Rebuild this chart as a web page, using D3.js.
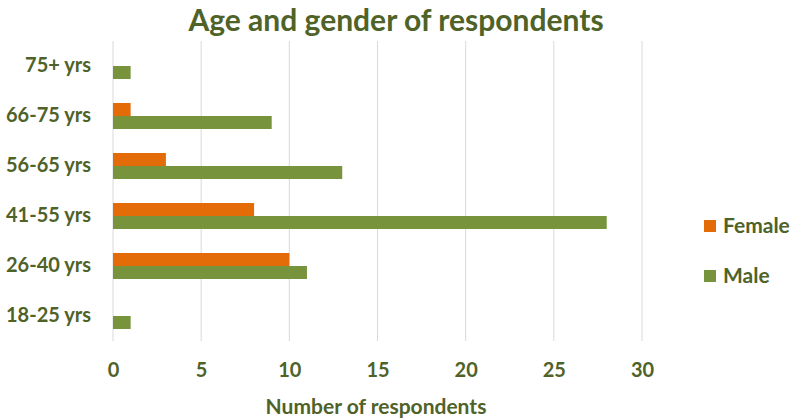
<!DOCTYPE html>
<html>
<head>
<meta charset="utf-8">
<script src="https://cdn.jsdelivr.net/npm/d3@7"></script>
<style>
  body { margin: 0; background: #fff; }
  text { font-family: Lato, "Open Sans", sans-serif; fill: #4f6228; font-weight: bold; }
</style>
</head>
<body>
<svg id="vis" width="795" height="418"></svg>
<script>
// age groups, top to bottom as drawn
const ageGroups = ["75+ yrs", "66-75 yrs", "56-65 yrs", "41-55 yrs", "26-40 yrs", "18-25 yrs"];
const femaleCounts = [0, 1, 3, 8, 10, 0];
const maleCounts = [1, 9, 13, 28, 11, 1];
const seriesNames = ["Female", "Male"];
const seriesColors = ["#e36c09", "#77933c"];
const xTicks = [0, 5, 10, 15, 20, 25, 30];

const svg = d3.select("svg#vis");

const plot = { left: 113, right: 642, top: 41, bottom: 341 };

const x = d3.scaleLinear().domain([0, 30]).range([plot.left, plot.right]);
const y = d3.scaleBand().domain(ageGroups).range([plot.top, plot.bottom]).paddingInner(0.48).paddingOuter(0.24);
const sub = d3.scaleBand().domain(seriesNames).range([0, y.bandwidth()]);

// title
svg.append("text")
  .attr("x", 396)
  .attr("y", 31)
  .attr("text-anchor", "middle")
  .style("font-size", "30px")
  .text("Age and gender of respondents");

// gridlines
svg.append("g").selectAll("line.grid")
  .data(xTicks)
  .enter()
  .append("line")
  .attr("class", "grid")
  .attr("x1", d => x(d))
  .attr("x2", d => x(d))
  .attr("y1", plot.top)
  .attr("y2", plot.bottom)
  .attr("stroke", "#d9d9d9")
  .attr("stroke-width", 1);

// bars
const rows = ageGroups.map((g, i) => ({ group: g, values: [femaleCounts[i], maleCounts[i]] }));

const groups = svg.append("g").selectAll("g.row")
  .data(rows)
  .enter()
  .append("g")
  .attr("transform", d => "translate(0," + y(d.group) + ")");

groups.selectAll("rect")
  .data(d => d.values.map((v, j) => ({ name: seriesNames[j], value: v, color: seriesColors[j] })))
  .enter()
  .append("rect")
  .attr("x", x(0))
  .attr("y", d => sub(d.name))
  .attr("width", d => x(d.value) - x(0))
  .attr("height", sub.bandwidth())
  .attr("fill", d => d.color);

// y axis labels
const yAxis = d3.axisLeft(y).tickSize(0).tickPadding(22);
const yg = svg.append("g")
  .attr("transform", "translate(" + plot.left + ",0)")
  .call(yAxis);
yg.select(".domain").remove();
yg.selectAll("text").style("font-size", "20px").attr("fill", "#4f6228");

// x axis labels
const xAxis = d3.axisBottom(x).tickValues(xTicks).tickSize(0).tickPadding(22);
const xg = svg.append("g")
  .attr("transform", "translate(0," + plot.bottom + ")")
  .call(xAxis);
xg.select(".domain").remove();
xg.selectAll("text").style("font-size", "20px").attr("fill", "#4f6228");

// x axis title
svg.append("text")
  .attr("x", 376)
  .attr("y", 414)
  .attr("text-anchor", "middle")
  .style("font-size", "21px")
  .text("Number of respondents");

// legend
const legend = svg.append("g").selectAll("g.legend")
  .data(seriesNames)
  .enter()
  .append("g")
  .attr("transform", (d, i) => "translate(704," + (220 + i * 50) + ")");

legend.append("rect")
  .attr("width", 12)
  .attr("height", 12)
  .attr("fill", (d, i) => seriesColors[i]);

legend.append("text")
  .attr("x", 19)
  .attr("y", 6)
  .attr("dy", "0.35em")
  .style("font-size", "21px")
  .text(d => d);
</script>
</body>
</html>
